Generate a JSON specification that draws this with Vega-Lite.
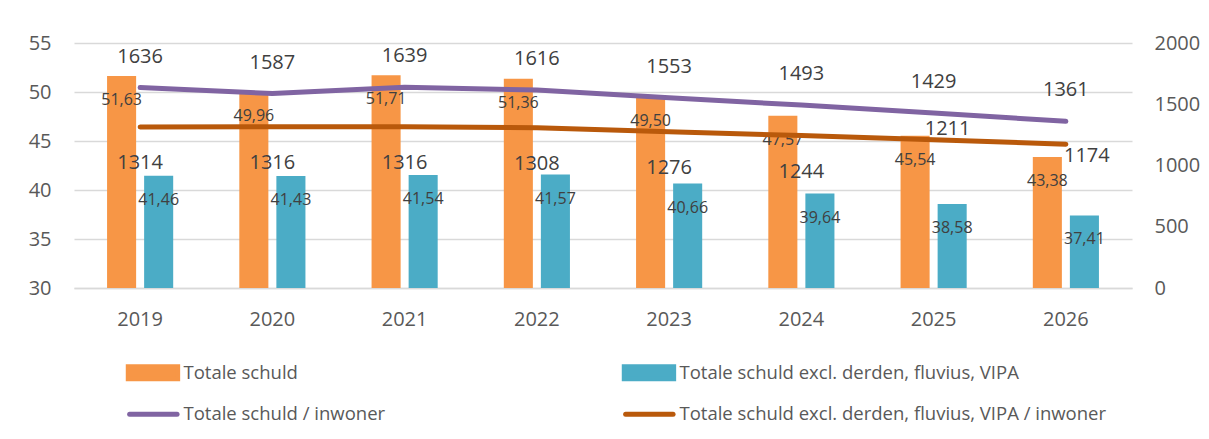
{
  "$schema": "https://vega.github.io/schema/vega-lite/v6.json",
  "width": 1058,
  "height": 245,
  "autosize": {"type": "none"},
  "padding": {"left": 74, "top": 43, "right": 77, "bottom": 151},
  "background": "white",
  "config": {
    "font": "Open Sans",
    "view": {"stroke": null},
    "locale": {"number": {"decimal": ",", "thousands": ".", "grouping": [3], "currency": ["€", ""]}},
    "axis": {"labelFont": "Open Sans", "labelFontSize": 20, "labelColor": "#595959", "domain": false, "ticks": false, "tickSize": 0, "title": null}
  },
  "datasets": {
    "bars": [
      {"jaar": "2019", "series": "Totale schuld", "waarde": 51.63},
      {"jaar": "2020", "series": "Totale schuld", "waarde": 49.96},
      {"jaar": "2021", "series": "Totale schuld", "waarde": 51.71},
      {"jaar": "2022", "series": "Totale schuld", "waarde": 51.36},
      {"jaar": "2023", "series": "Totale schuld", "waarde": 49.50},
      {"jaar": "2024", "series": "Totale schuld", "waarde": 47.57},
      {"jaar": "2025", "series": "Totale schuld", "waarde": 45.54},
      {"jaar": "2026", "series": "Totale schuld", "waarde": 43.38},
      {"jaar": "2019", "series": "Totale schuld excl. derden, fluvius, VIPA", "waarde": 41.46},
      {"jaar": "2020", "series": "Totale schuld excl. derden, fluvius, VIPA", "waarde": 41.43},
      {"jaar": "2021", "series": "Totale schuld excl. derden, fluvius, VIPA", "waarde": 41.54},
      {"jaar": "2022", "series": "Totale schuld excl. derden, fluvius, VIPA", "waarde": 41.57},
      {"jaar": "2023", "series": "Totale schuld excl. derden, fluvius, VIPA", "waarde": 40.66},
      {"jaar": "2024", "series": "Totale schuld excl. derden, fluvius, VIPA", "waarde": 39.64},
      {"jaar": "2025", "series": "Totale schuld excl. derden, fluvius, VIPA", "waarde": 38.58},
      {"jaar": "2026", "series": "Totale schuld excl. derden, fluvius, VIPA", "waarde": 37.41}
    ],
    "lines": [
      {"jaar": "2019", "series": "Totale schuld / inwoner", "waarde": 1636},
      {"jaar": "2020", "series": "Totale schuld / inwoner", "waarde": 1587},
      {"jaar": "2021", "series": "Totale schuld / inwoner", "waarde": 1639},
      {"jaar": "2022", "series": "Totale schuld / inwoner", "waarde": 1616},
      {"jaar": "2023", "series": "Totale schuld / inwoner", "waarde": 1553},
      {"jaar": "2024", "series": "Totale schuld / inwoner", "waarde": 1493},
      {"jaar": "2025", "series": "Totale schuld / inwoner", "waarde": 1429},
      {"jaar": "2026", "series": "Totale schuld / inwoner", "waarde": 1361},
      {"jaar": "2019", "series": "Totale schuld excl. derden, fluvius, VIPA / inwoner", "waarde": 1314},
      {"jaar": "2020", "series": "Totale schuld excl. derden, fluvius, VIPA / inwoner", "waarde": 1316},
      {"jaar": "2021", "series": "Totale schuld excl. derden, fluvius, VIPA / inwoner", "waarde": 1316},
      {"jaar": "2022", "series": "Totale schuld excl. derden, fluvius, VIPA / inwoner", "waarde": 1308},
      {"jaar": "2023", "series": "Totale schuld excl. derden, fluvius, VIPA / inwoner", "waarde": 1276},
      {"jaar": "2024", "series": "Totale schuld excl. derden, fluvius, VIPA / inwoner", "waarde": 1244},
      {"jaar": "2025", "series": "Totale schuld excl. derden, fluvius, VIPA / inwoner", "waarde": 1211},
      {"jaar": "2026", "series": "Totale schuld excl. derden, fluvius, VIPA / inwoner", "waarde": 1174}
    ]
  },
  "layer": [
    {
      "data": {"name": "bars"},
      "layer": [
        {
          "mark": {"type": "bar"},
          "encoding": {
            "x": {"field": "jaar", "type": "nominal", "scale": {"paddingInner": 0.5, "paddingOuter": 0.25},
                  "axis": {"labelAngle": 0, "labelPadding": 21, "domain": true, "domainColor": "#d9d9d9", "domainWidth": 1.5}},
            "xOffset": {"field": "series", "type": "nominal", "sort": ["Totale schuld", "Totale schuld excl. derden, fluvius, VIPA"], "scale": {"paddingInner": 0.216, "paddingOuter": 0}},
            "y": {"field": "waarde", "type": "quantitative", "scale": {"domain": [30, 55], "zero": false, "nice": false},
                  "axis": {"orient": "left", "values": [30, 35, 40, 45, 50, 55], "grid": true, "gridColor": "#d9d9d9", "gridWidth": 1.5, "labelPadding": 23}},
            "y2": {"datum": 30},
            "color": {
              "field": "series", "type": "nominal",
              "scale": {
                "domain": ["Totale schuld", "Totale schuld excl. derden, fluvius, VIPA", "Totale schuld / inwoner", "Totale schuld excl. derden, fluvius, VIPA / inwoner"],
                "range": ["#F79646", "#4BACC6", "#8064A2", "#B9590B"]
              },
              "legend": {
                "orient": "none", "legendX": 71, "legendY": 320, "direction": "horizontal", "columns": 2,
                "columnPadding": 228, "rowPadding": 15, "title": null, "padding": 0,
                "labelFont": "Open Sans", "labelFontSize": 18.5, "labelColor": "#595959", "labelLimit": 600, "labelOffset": 20,
                "symbolSize": 144, "symbolOffset": 0,
                "encode": {
                  "symbols": {
                    "update": {
                      "shape": {"signal": "indexof(['Totale schuld','Totale schuld excl. derden, fluvius, VIPA'], datum.value) >= 0 ? 'M-4.33,-1H3.9V1H-4.33Z' : 'M-4.1,0H3.8'"},
                      "fill": {"signal": "indexof(['Totale schuld','Totale schuld excl. derden, fluvius, VIPA'], datum.value) >= 0 ? scale('color', datum.value) : 'transparent'"},
                      "stroke": {"signal": "indexof(['Totale schuld','Totale schuld excl. derden, fluvius, VIPA'], datum.value) >= 0 ? 'transparent' : scale('color', datum.value)"},
                      "strokeWidth": {"value": 5},
                      "strokeCap": {"value": "round"},
                      "opacity": {"value": 1},
                      "fillOpacity": {"value": 1},
                      "strokeOpacity": {"value": 1}
                    }
                  }
                }
              }
            }
          }
        },
        {
          "mark": {"type": "text", "dy": 24, "fontSize": 16, "color": "#404040", "baseline": "middle"},
          "encoding": {
            "x": {"field": "jaar", "type": "nominal"},
            "xOffset": {"field": "series", "type": "nominal", "sort": ["Totale schuld", "Totale schuld excl. derden, fluvius, VIPA"]},
            "y": {"field": "waarde", "type": "quantitative"},
            "text": {"field": "waarde", "type": "quantitative", "format": ".2f"}
          }
        }
      ]
    },
    {
      "data": {"name": "lines"},
      "layer": [
        {
          "mark": {"type": "line", "strokeWidth": 5, "strokeCap": "round", "strokeJoin": "round"},
          "encoding": {
            "x": {"field": "jaar", "type": "nominal"},
            "y": {"field": "waarde", "type": "quantitative", "scale": {"domain": [0, 2000], "nice": false},
                  "axis": {"orient": "right", "values": [0, 500, 1000, 1500, 2000], "format": "d", "grid": false, "labelPadding": 22}},
            "color": {"field": "series", "type": "nominal"}
          }
        },
        {
          "transform": [{"filter": "datum.series == 'Totale schuld / inwoner'"}],
          "mark": {"type": "text", "dy": -31, "fontSize": 20, "color": "#404040", "baseline": "middle"},
          "encoding": {
            "x": {"field": "jaar", "type": "nominal"},
            "y": {"field": "waarde", "type": "quantitative"},
            "text": {"field": "waarde", "type": "quantitative", "format": "d"}
          }
        },
        {
          "transform": [{"filter": "datum.series != 'Totale schuld / inwoner' && datum.jaar != '2025' && datum.jaar != '2026'"}],
          "mark": {"type": "text", "dy": 36, "fontSize": 20, "color": "#404040", "baseline": "middle"},
          "encoding": {
            "x": {"field": "jaar", "type": "nominal"},
            "y": {"field": "waarde", "type": "quantitative"},
            "text": {"field": "waarde", "type": "quantitative", "format": "d"}
          }
        },
        {
          "transform": [{"filter": "datum.series != 'Totale schuld / inwoner' && datum.jaar == '2025'"}],
          "mark": {"type": "text", "dy": -11, "dx": 14, "fontSize": 20, "color": "#404040", "baseline": "middle"},
          "encoding": {
            "x": {"field": "jaar", "type": "nominal"},
            "y": {"field": "waarde", "type": "quantitative"},
            "text": {"field": "waarde", "type": "quantitative", "format": "d"}
          }
        },
        {
          "transform": [{"filter": "datum.series != 'Totale schuld / inwoner' && datum.jaar == '2026'"}],
          "mark": {"type": "text", "dy": 12, "dx": 21, "fontSize": 20, "color": "#404040", "baseline": "middle"},
          "encoding": {
            "x": {"field": "jaar", "type": "nominal"},
            "y": {"field": "waarde", "type": "quantitative"},
            "text": {"field": "waarde", "type": "quantitative", "format": "d"}
          }
        }
      ]
    }
  ],
  "resolve": {"scale": {"y": "independent"}}
}
